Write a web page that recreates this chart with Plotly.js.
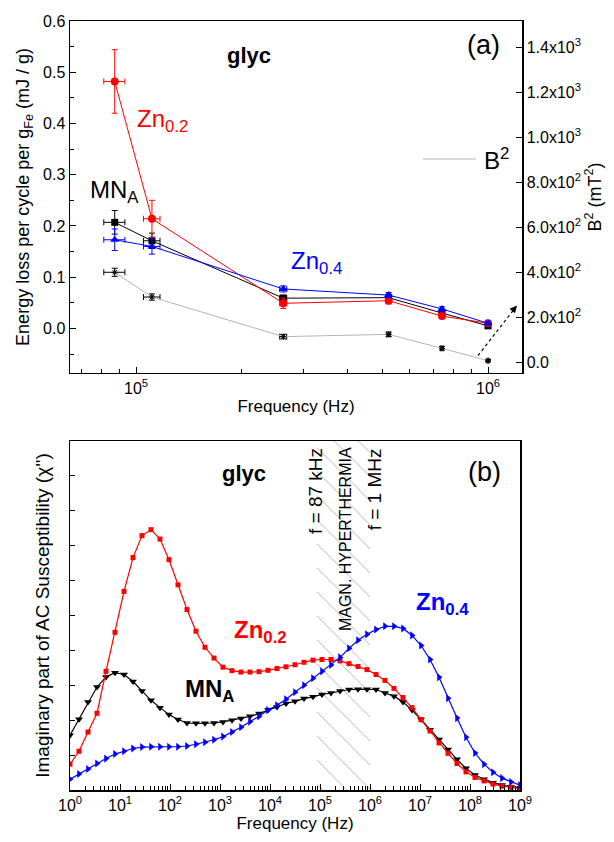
<!DOCTYPE html>
<html><head><meta charset="utf-8">
<script src="https://cdn.plot.ly/plotly-3.0.1.min.js"></script>
<style>html,body{margin:0;padding:0;background:#fff}#chart{width:614px;height:842px}</style>
</head><body><div id="chart"></div>
<script>
// ---------- panel (a) data ----------
const freqA = [87e3, 111e3, 262e3, 522e3, 740e3, 1000e3];
const freqErrA = [6e3, 6e3, 6e3, 6e3, 6e3, 6e3];
const lossZn02 = [0.482, 0.214, 0.049, 0.054, 0.024, 0.010];
const errZn02 = [0.062, 0.036, 0.010, 0.006, 0.005, 0.004];
const lossMNA = [0.207, 0.171, 0.059, 0.060, 0.030, 0.005];
const errMNA = [0.023, 0.015, 0.006, 0.005, 0.004, 0.003];
const lossZn04 = [0.173, 0.160, 0.077, 0.065, 0.038, 0.010];
const errZn04 = [0.021, 0.015, 0.006, 0.005, 0.004, 0.003];
const bSquared = [400, 290, 114, 124, 62, 7];
const errB2 = [18, 14, 10, 10, 8, 5];
const rightTickVals = [0, 200, 400, 600, 800, 1000, 1200, 1400];
const rightTickText = ['0.0','2.0x10<sup>2</sup>','4.0x10<sup>2</sup>','6.0x10<sup>2</sup>','8.0x10<sup>2</sup>','1.0x10<sup>3</sup>','1.2x10<sup>3</sup>','1.4x10<sup>3</sup>'];
const topXTickVals = [1e5, 1e6];
const topXTickText = ['10<sup>5</sup>', '10<sup>6</sup>'];

// ---------- panel (b) data ----------
const freqB = [1, 1.514, 2.291, 3.467, 5.248, 7.943, 12.02, 18.20, 27.54, 41.69,
  63.10, 95.50, 144.5, 218.8, 331.1, 501.2, 758.6, 1148, 1738, 2630,
  3981, 6026, 9120, 13800, 20890, 31620, 47860, 72440, 109600, 166000,
  251200, 380200, 575400, 871000, 1.318e6, 1.995e6, 3.020e6, 4.571e6, 6.918e6, 1.047e7,
  1.585e7, 2.399e7, 3.631e7, 5.495e7, 8.318e7, 1.259e8, 1.905e8, 2.884e8, 4.365e8, 6.607e8, 1e9];
const chiZn02 = [0.74, 1.11, 1.66, 2.2, 3.40, 4.52, 5.69, 6.66, 7.29, 7.46,
  7.19, 6.60, 5.88, 5.17, 4.55, 4.09, 3.78, 3.52, 3.42, 3.38,
  3.38, 3.39, 3.43, 3.48, 3.53, 3.59, 3.66, 3.72, 3.74, 3.74,
  3.70, 3.62, 3.54, 3.45, 3.31, 3.14, 2.91, 2.65, 2.36, 2.02,
  1.69, 1.35, 1.05, 0.76, 0.52, 0.36, 0.26, 0.17, 0.11, 0.08, 0.04];
const chiMNA = [1.57, 2.03, 2.52, 2.95, 3.24, 3.36, 3.31, 3.11, 2.84, 2.57,
  2.36, 2.16, 2.02, 1.92, 1.91, 1.91, 1.92, 1.95, 2.00, 2.05,
  2.11, 2.19, 2.29, 2.38, 2.48, 2.54, 2.62, 2.67, 2.74, 2.78,
  2.84, 2.88, 2.89, 2.89, 2.88, 2.78, 2.69, 2.52, 2.29, 2.02,
  1.73, 1.45, 1.16, 0.88, 0.62, 0.43, 0.31, 0.21, 0.14, 0.09, 0.05];
const chiZn04 = [0.31, 0.46, 0.60, 0.76, 0.90, 1.03, 1.11, 1.19, 1.23, 1.24,
  1.24, 1.24, 1.24, 1.26, 1.31, 1.37, 1.44, 1.53, 1.66, 1.80,
  1.96, 2.11, 2.29, 2.43, 2.60, 2.80, 3.00, 3.20, 3.40, 3.58,
  3.80, 4.06, 4.29, 4.46, 4.60, 4.69, 4.69, 4.63, 4.43, 4.14,
  3.74, 3.23, 2.63, 2.06, 1.51, 1.06, 0.74, 0.51, 0.34, 0.23, 0.14];
const hyperFreq = [87e3, 1e6];
const chiRange = [0, 10];
const botXTickVals = [1,10,100,1e3,1e4,1e5,1e6,1e7,1e8,1e9];
const botXTickText = ['10<sup>0</sup>','10<sup>1</sup>','10<sup>2</sup>','10<sup>3</sup>','10<sup>4</sup>','10<sup>5</sup>','10<sup>6</sup>','10<sup>7</sup>','10<sup>8</sup>','10<sup>9</sup>'];

const FONT = 'Liberation Sans, Arial, sans-serif';
function minorLog(d0, d1) {
  const v = [];
  for (let d = d0; d < d1; d++) for (let m = 2; m <= 9; m++) v.push(m * Math.pow(10, d));
  return v;
}
function errBar(arr, color, w) {
  return {type: 'data', array: arr, visible: true, color: color, thickness: 1, width: w};
}

const traces = [
  // (a)
  {x: freqA, y: bSquared, xaxis: 'x', yaxis: 'y2', mode: 'lines+markers', showlegend: false,
   line: {color: '#b4b4b4', width: 1},
   marker: {symbol: 'asterisk-open', size: 5, color: '#000', line: {color: '#000', width: 1}},
   error_y: errBar(errB2, '#000', 3), error_x: errBar(freqErrA, '#000', 3)},
  {x: freqA, y: lossMNA, xaxis: 'x', yaxis: 'y', mode: 'lines+markers', showlegend: false,
   line: {color: '#000', width: 1}, marker: {symbol: 'square', size: 7, color: '#000'},
   error_y: errBar(errMNA, '#000', 3), error_x: errBar(freqErrA, '#000', 3)},
  {x: freqA, y: lossZn02, xaxis: 'x', yaxis: 'y', mode: 'lines+markers', showlegend: false,
   line: {color: '#ff0000', width: 1}, marker: {symbol: 'circle', size: 8, color: '#ff0000'},
   error_y: errBar(errZn02, '#ff0000', 3), error_x: errBar(freqErrA, '#ff0000', 3)},
  {x: freqA, y: lossZn04, xaxis: 'x', yaxis: 'y', mode: 'lines+markers', showlegend: false,
   line: {color: '#0000ff', width: 1}, marker: {symbol: 'triangle-up', size: 8, color: '#0000ff'},
   error_y: errBar(errZn04, '#0000ff', 3), error_x: errBar(freqErrA, '#0000ff', 3)},
  // (b) hatch region
  {x: [hyperFreq[0], hyperFreq[1], hyperFreq[1], hyperFreq[0], hyperFreq[0]],
   y: [chiRange[0], chiRange[0], chiRange[1], chiRange[1], chiRange[0]],
   xaxis: 'x2', yaxis: 'y3', mode: 'lines', fill: 'toself', showlegend: false, hoverinfo: 'skip',
   line: {width: 0, color: 'rgba(0,0,0,0)'}, fillcolor: 'rgba(255,255,255,0)',
   fillpattern: {shape: '\\', fgcolor: '#6e6e6e', bgcolor: 'rgba(255,255,255,0)', size: 17, solidity: 0.03}},
  {x: freqB, y: chiMNA, xaxis: 'x2', yaxis: 'y3', mode: 'lines+markers', showlegend: false,
   line: {color: '#000', width: 1.2}, marker: {symbol: 'triangle-down', size: 7, color: '#000'}},
  {x: freqB, y: chiZn02, xaxis: 'x2', yaxis: 'y3', mode: 'lines+markers', showlegend: false,
   line: {color: '#ff0000', width: 1.2}, marker: {symbol: 'square', size: 5, color: '#ff0000'}},
  {x: freqB, y: chiZn04, xaxis: 'x2', yaxis: 'y3', mode: 'lines+markers', showlegend: false,
   line: {color: '#0000ff', width: 1.2}, marker: {symbol: 'triangle-right', size: 7, color: '#0000ff'}}
];

const axBase = {showline: true, linecolor: '#000', linewidth: 1.5, mirror: true, ticks: 'inside',
  tickcolor: '#000', tickwidth: 1, showgrid: false, zeroline: false,
  tickfont: {family: FONT, size: 16, color: '#000'}};
function tf(s) { return {family: FONT, size: s, color: '#000'}; }

function ann(text, x, y, size, color, opts) {
  return Object.assign({xref: 'paper', yref: 'paper', x: x, y: y, text: text, showarrow: false,
    font: {family: FONT, size: size, color: color}, xanchor: 'center', yanchor: 'middle'}, opts || {});
}

const layout = {
  width: 614, height: 842,
  margin: {l: 70, r: 92, t: 21, b: 52},
  paper_bgcolor: '#fff', plot_bgcolor: 'rgba(0,0,0,0)',
  font: {family: FONT, color: '#000'},
  showlegend: false,
  xaxis: Object.assign({}, axBase, {type: 'log', domain: [0, 1], anchor: 'y',
    range: [Math.log10(64935), Math.log10(1.249e6)], tickmode: 'array', tickvals: topXTickVals, ticktext: topXTickText,
    ticklen: 6, mirror: true,
    minor: {tickmode: 'array', tickvals: minorLog(4, 6).filter(v => v > 64935 && v < 1.249e6), ticklen: 4, ticks: 'inside', tickcolor: '#000'},
    title: {text: 'Frequency (Hz)', font: tf(17), standoff: 4}}),
  yaxis: Object.assign({}, axBase, {domain: [0.5423, 1], anchor: 'x', range: [-0.087, 0.6],
    tickmode: 'linear', tick0: 0, dtick: 0.1, tickformat: '.1f', ticklen: 6, mirror: false,
    minor: {dtick: 0.05, tick0: 0, ticklen: 4, ticks: 'inside', tickcolor: '#000'},
    title: {text: 'Energy loss per cycle per g<sub>Fe</sub> (mJ / g)', font: tf(18), standoff: 8}}),
  yaxis2: Object.assign({}, axBase, {overlaying: 'y', side: 'right', anchor: 'x', range: [-47.6, 1517],
    tickmode: 'array', tickvals: rightTickVals, ticktext: rightTickText, ticklen: 6, mirror: false,
    title: {text: 'B<sup>2</sup> (mT<sup>2</sup>)', font: tf(18), standoff: 8}}),
  xaxis2: Object.assign({}, axBase, {type: 'log', domain: [0, 0.9956], anchor: 'y3', range: [0, 9],
    tickmode: 'array', tickvals: botXTickVals, ticktext: botXTickText, ticklen: 6,
    minor: {tickmode: 'array', tickvals: minorLog(0, 9), ticklen: 4, ticks: 'inside', tickcolor: '#000'},
    title: {text: 'Frequency (Hz)', font: tf(17), standoff: 4}}),
  yaxis3: Object.assign({}, axBase, {domain: [0, 0.4538], anchor: 'x2', range: chiRange,
    tickmode: 'linear', tick0: 0, dtick: 1, ticklen: 5, showticklabels: false,
    title: {text: "Imaginary part of AC Susceptibility (χ'')", font: tf(19), standoff: 14}}),
  shapes: [
    {type: 'line', xref: 'paper', yref: 'paper', x0: 0.9027, y0: 0.565, x1: 0.985, y1: 0.627,
     line: {color: '#000', width: 1.2, dash: 'dot'}},
    // manual legend line for B^2
    {type: 'line', xref: 'paper', yref: 'paper', x0: (423 - 70) / 452, x1: (476 - 70) / 452,
     y0: (790 - 159) / 769, y1: (790 - 159) / 769, line: {color: '#b4b4b4', width: 1}}
  ],
  annotations: [
    ann('', 0.9889, 0.630, 12, '#000', {showarrow: true, arrowhead: 2, arrowsize: 1.2, arrowwidth: 1.2,
      arrowcolor: '#000', ax: -6, ay: 7}),
    ann('B<sup>2</sup>', (482 - 70) / 452, (790 - 159) / 769, 24, '#000', {xanchor: 'left'}),
    ann('<b>glyc</b>', 0.396, 0.9545, 22, '#000'),
    ann('(a)', 0.914, 0.969, 27, '#000'),
    ann('Zn<sub>0.2</sub>', 0.1438, 0.871, 24, '#ff0000', {xanchor: 'left'}),
    ann('MN<sub>A</sub>', 0.0398, 0.778, 24, '#000', {xanchor: 'left'}),
    ann('Zn<sub>0.4</sub>', 0.4845, 0.6866, 24, '#0000ff', {xanchor: 'left'}),
    ann('<b>glyc</b>', 0.385, 0.411, 22, '#000'),
    ann('(b)', 0.918, 0.4135, 27, '#000'),
    ann('<b>Zn<sub>0.2</sub></b>', 0.358, 0.2055, 24, '#ff0000', {xanchor: 'left'}),
    ann('<b>MN<sub>A</sub></b>', 0.25, 0.130, 24, '#000', {xanchor: 'left'}),
    ann('<b>Zn<sub>0.4</sub></b>', 0.761, 0.243, 24, '#0000ff', {xanchor: 'left'}),
    ann('f = 87 kHz', 0.542, 0.3888, 19, '#000', {textangle: -90}),
    ann('MAGN. HYPERTHERMIA', 0.608, 0.326, 16, '#000', {textangle: -90}),
    ann('f = 1 MHz', 0.6726, 0.391, 19, '#000', {textangle: -90})
  ]
};

Plotly.newPlot('chart', traces, layout, {staticPlot: true, displayModeBar: false});
</script>
</body></html>
